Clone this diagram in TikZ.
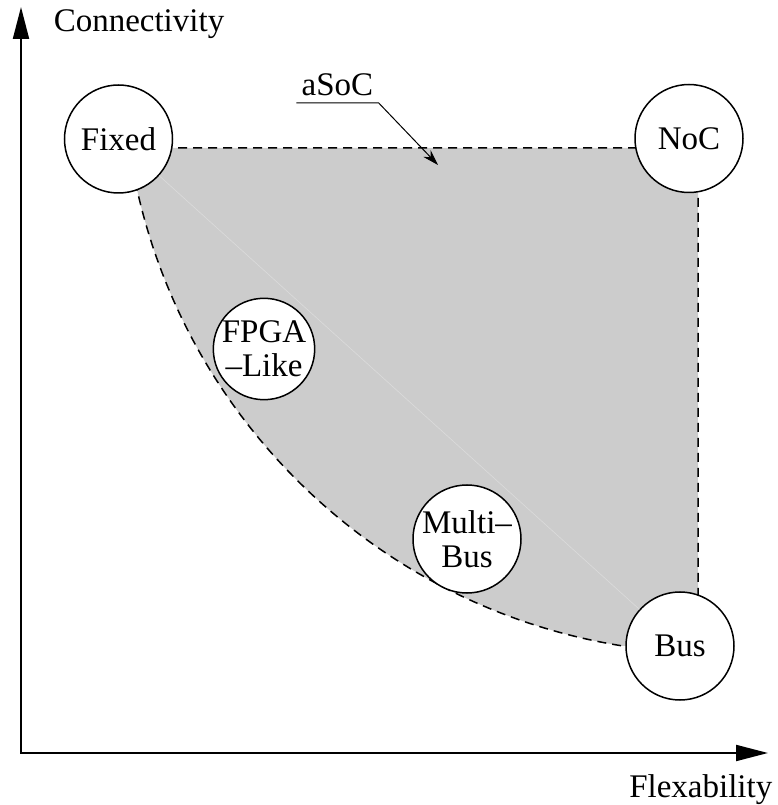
\documentclass[tikz,border=0pt]{standalone}
\usepackage{fontspec}
\setmainfont{Liberation Serif}
\usetikzlibrary{arrows.meta}

\begin{document}
\begin{tikzpicture}[x=0.5pt, y=0.5pt, line width=0.75pt,
  station/.style={circle, draw, fill=white, minimum size=54pt, inner sep=0pt,
    font=\fontsize{16.5}{17}\selectfont, align=center},
  label/.style={font=\fontsize{16.5}{17}\selectfont, inner sep=0pt},
  border/.style={dash pattern=on 4.5pt off 3pt},
  axis/.style={line width=1pt, line join=miter,
    {Triangle[length=16pt,width=8pt]}-{Triangle[length=16pt,width=8pt]}}]
  \useasboundingbox (0,0) rectangle (778,805);
  % axes
  \coordinate (origin) at (21,52);
  \coordinate (ytip) at (21,798);
  \coordinate (xtip) at (768,52);
  \draw[axis] (ytip) -- (origin) -- (xtip);
  \node[label, anchor=base west] (conn) at (53,773) {Connectivity};
  \node[label, anchor=base east] (flex) at (773,8) {Flexability};
  % the aSoC region
  \coordinate (tl) at (118,657);
  \coordinate (tr) at (698,657);
  \coordinate (br) at (698,159);
  \filldraw[fill=gray!40, border] (tl) -- (tr) -- (br) -- (623,159)
    arc[start angle=261, end angle=192.5, radius=593] -- cycle;
  % interconnect styles
  \node[station] (fixed) at (118.5,666) {Fixed};
  \node[station] (noc) at (689,666.5) {NoC};
  \node[station] (bus) at (680,159) {Bus};
  \node[station, minimum size=49pt] (fpga) at (264,456) {FPGA\\--Like};
  \node[station] (multi) at (467,266) {Multi--\\Bus};
  \draw[gray!28, line width=0.3pt] (fixed) -- (bus);
  % leader
  \node[label, anchor=south, minimum width=40.5pt, inner ysep=3pt] (asoc) at (337.5,702) {aSoC};
  \coordinate (into) at (438,640);
  \draw[line width=0.5pt, -{Stealth[length=8pt,width=5pt]}] (asoc.south west) -- (asoc.south east) -- (into);
\end{tikzpicture}
\end{document}
